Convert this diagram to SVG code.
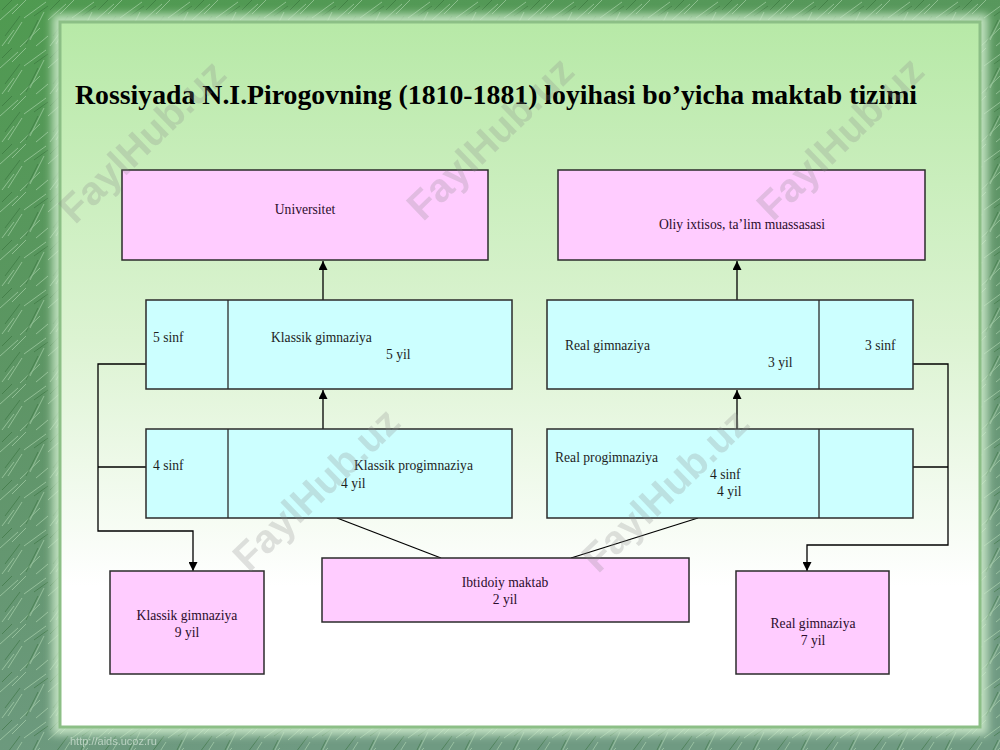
<svg xmlns="http://www.w3.org/2000/svg" width="1000" height="750" viewBox="0 0 1000 750">
  <defs>
    <linearGradient id="frameGrad" x1="0" y1="0" x2="0.3" y2="1">
      <stop offset="0" stop-color="#4f9a50"/>
      <stop offset="0.5" stop-color="#5e9566"/>
      <stop offset="1" stop-color="#6f9a82"/>
    </linearGradient>
    <linearGradient id="panelGrad" x1="0" y1="0" x2="0" y2="1">
      <stop offset="0" stop-color="#b7e9a7"/>
      <stop offset="0.45" stop-color="#dcf3d2"/>
      <stop offset="0.8" stop-color="#ffffff"/>
      <stop offset="1" stop-color="#ffffff"/>
    </linearGradient>
    <pattern id="grass" width="48" height="48" patternUnits="userSpaceOnUse">
      <g stroke="#b9dfb9" stroke-width="1" fill="none" opacity="0.55">
        <path d="M2 46 L14 30"/>
        <path d="M8 44 L22 22"/>
        <path d="M20 47 L40 28"/>
        <path d="M30 40 L44 12"/>
        <path d="M0 20 L18 4"/>
        <path d="M24 18 L46 2"/>
        <path d="M12 14 L26 0"/>
        <path d="M36 46 L48 36"/>
      </g>
      <g stroke="#2f6a34" stroke-width="1" fill="none" opacity="0.5">
        <path d="M5 36 L20 16"/>
        <path d="M26 44 L38 20"/>
        <path d="M34 16 L48 6"/>
        <path d="M2 10 L12 0"/>
      </g>
    </pattern>
    <filter id="glow" x="-5%" y="-5%" width="110%" height="110%">
      <feGaussianBlur stdDeviation="4"/>
    </filter>
    <marker id="arrow" viewBox="0 0 10 10" refX="10" refY="5" markerWidth="9" markerHeight="9" markerUnits="userSpaceOnUse" orient="auto">
      <path d="M0 0 L10 5 L0 10 Z" fill="#000"/>
    </marker>
    <style>
      .pink { fill: #ffccff; stroke: #2b2b2b; stroke-width: 1.5; }
      .cyan { fill: #ccffff; stroke: #2b2b2b; stroke-width: 1.5; }
      .div { stroke: #2b2b2b; stroke-width: 1.3; }
      .t { font-family: "Liberation Serif", "Times New Roman", serif; font-size: 13.6px; fill: #1e1e1e; }
      .tp { font-family: "Liberation Serif", "Times New Roman", serif; font-size: 13.6px; fill: #2c0c2c; }
      .title { font-family: "Liberation Serif", "Times New Roman", serif; font-size: 27.8px; font-weight: bold; fill: #000; }
      .conn { stroke: #000; stroke-width: 1.3; fill: none; }
      .wm { font-family: "Liberation Sans", Arial, sans-serif; font-weight: bold; font-size: 40px; fill: #8a8a8a; opacity: 0.25; }
      .url { font-family: "Liberation Sans", Arial, sans-serif; font-size: 11px; fill: #d8e8dc; opacity: 0.7; }
    </style>
  </defs>

  <!-- background frame -->
  <rect x="0" y="0" width="1000" height="750" fill="url(#frameGrad)"/>
  <rect x="0" y="0" width="1000" height="750" fill="url(#grass)"/>
  <rect x="52" y="14" width="936" height="721" fill="#cfeccc" opacity="0.85" filter="url(#glow)"/>
  <rect x="60" y="22" width="920" height="705" fill="url(#panelGrad)" stroke="#8cbf86" stroke-width="3"/>
  <text class="url" x="70" y="745">http://aids.ucoz.ru</text>

  <!-- title -->
  <text class="title" x="75" y="104" textLength="842" lengthAdjust="spacingAndGlyphs">Rossiyada N.I.Pirogovning (1810-1881) loyihasi bo’yicha maktab tizimi</text>

  <!-- connectors -->
  <g id="connectors">
    <line class="conn" x1="323" y1="300" x2="323" y2="261" marker-end="url(#arrow)"/>
    <line class="conn" x1="737" y1="300" x2="737" y2="261" marker-end="url(#arrow)"/>
    <line class="conn" x1="323" y1="429" x2="323" y2="390" marker-end="url(#arrow)"/>
    <line class="conn" x1="737" y1="429" x2="737" y2="390" marker-end="url(#arrow)"/>
    <polyline class="conn" points="146,364 98,364 98,531 193,531 193,571" marker-end="url(#arrow)"/>
    <line class="conn" x1="146" y1="467" x2="98" y2="467"/>
    <polyline class="conn" points="913,364 948,364 948,545 807,545 807,571" marker-end="url(#arrow)"/>
    <line class="conn" x1="913" y1="467" x2="948" y2="467"/>
    <line class="conn" x1="337" y1="518" x2="441" y2="558"/>
    <line class="conn" x1="698" y1="518" x2="571" y2="558"/>
  </g>

  <g id="universitet">
    <rect class="pink" x="122" y="170" width="366" height="90"/>
    <text class="tp" x="305" y="214" text-anchor="middle">Universitet</text>
  </g>

  <g id="oliy">
    <rect class="pink" x="558" y="170" width="367" height="90"/>
    <text class="tp" x="742" y="229" text-anchor="middle">Oliy ixtisos, ta’lim muassasasi</text>
  </g>

  <g id="klassik-gimnaziya">
    <rect class="cyan" x="146" y="300" width="366" height="89"/>
    <line class="div" x1="228" y1="300" x2="228" y2="389"/>
    <text class="t" x="153" y="342">5 sinf</text>
    <text class="t" x="271" y="342">Klassik gimnaziya</text>
    <text class="t" x="386" y="359">5 yil</text>
  </g>

  <g id="real-gimnaziya">
    <rect class="cyan" x="547" y="300" width="366" height="89"/>
    <line class="div" x1="819" y1="300" x2="819" y2="389"/>
    <text class="t" x="565" y="350">Real gimnaziya</text>
    <text class="t" x="768" y="367">3 yil</text>
    <text class="t" x="865" y="350">3 sinf</text>
  </g>

  <g id="klassik-progimnaziya">
    <rect class="cyan" x="146" y="429" width="366" height="89"/>
    <line class="div" x1="228" y1="429" x2="228" y2="518"/>
    <text class="t" x="153" y="470">4 sinf</text>
    <text class="t" x="354" y="470">Klassik progimnaziya</text>
    <text class="t" x="341" y="488">4 yil</text>
  </g>

  <g id="real-progimnaziya">
    <rect class="cyan" x="547" y="429" width="366" height="89"/>
    <line class="div" x1="819" y1="429" x2="819" y2="518"/>
    <text class="t" x="555" y="462">Real progimnaziya</text>
    <text class="t" x="710" y="479">4 sinf</text>
    <text class="t" x="717" y="496">4 yil</text>
  </g>

  <g id="ibtidoiy-maktab">
    <rect class="pink" x="322" y="558" width="367" height="64"/>
    <text class="tp" x="505" y="587" text-anchor="middle">Ibtidoiy maktab</text>
    <text class="tp" x="505" y="604" text-anchor="middle">2 yil</text>
  </g>

  <g id="klassik-gimnaziya-9">
    <rect class="pink" x="110" y="571" width="154" height="103"/>
    <text class="tp" x="187" y="620" text-anchor="middle">Klassik gimnaziya</text>
    <text class="tp" x="187" y="637" text-anchor="middle">9 yil</text>
  </g>

  <g id="real-gimnaziya-7">
    <rect class="pink" x="736" y="571" width="153" height="103"/>
    <text class="tp" x="813" y="628" text-anchor="middle">Real gimnaziya</text>
    <text class="tp" x="813" y="645" text-anchor="middle">7 yil</text>
  </g>

  <!-- watermarks -->
  <g id="watermarks">
    <text class="wm" x="142" y="141" text-anchor="middle" dominant-baseline="central" transform="rotate(-44 142 141)">FaylHub.uz</text>
    <text class="wm" x="490" y="138" text-anchor="middle" dominant-baseline="central" transform="rotate(-44 490 138)">FaylHub.uz</text>
    <text class="wm" x="840" y="138" text-anchor="middle" dominant-baseline="central" transform="rotate(-44 840 138)">FaylHub.uz</text>
    <text class="wm" x="316" y="489" text-anchor="middle" dominant-baseline="central" transform="rotate(-44 316 489)">FaylHub.uz</text>
    <text class="wm" x="665" y="490" text-anchor="middle" dominant-baseline="central" transform="rotate(-44 665 490)">FaylHub.uz</text>
  </g>
</svg>
